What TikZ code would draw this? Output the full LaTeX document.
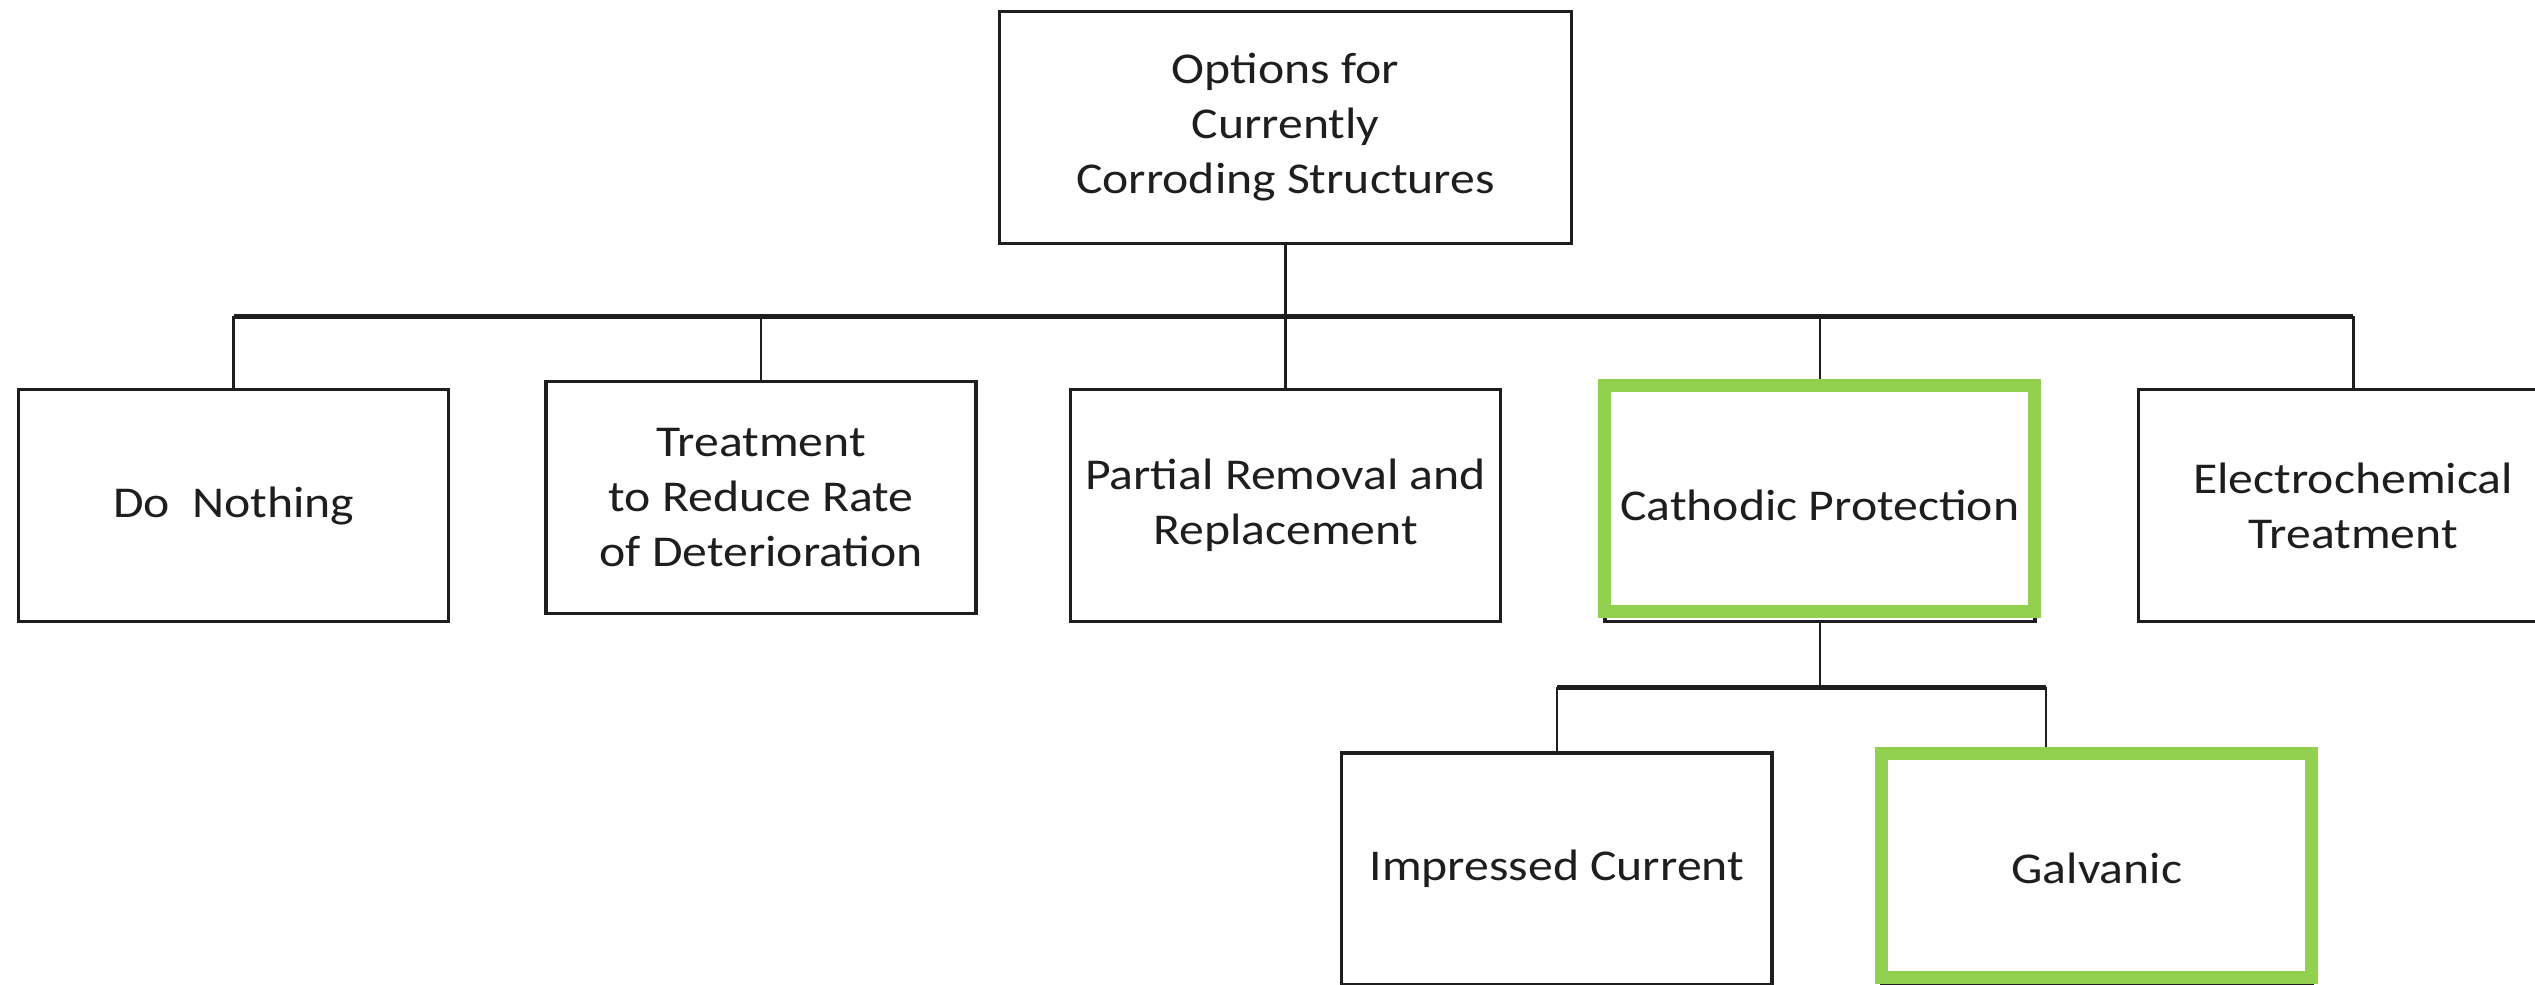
\documentclass[tikz,border=0pt]{standalone}
\usepackage{fontspec}
\setmainfont{Carlito}[FakeStretch=1.13]
\usetikzlibrary{positioning, fit, calc}
\definecolor{hlgreen}{RGB}{146, 208, 80}
\definecolor{ink}{RGB}{30, 30, 30}

\begin{document}
\begin{tikzpicture}[
    node distance=30pt,
    font=\fontsize{13.2}{16.5}\selectfont,
    % Styles
    box/.style={rectangle, minimum width=129pt, minimum height=69.6pt, align=center, draw=ink, line width=1pt, text=ink, inner sep=2pt},
    topbox/.style={box, minimum width=171.6pt},
    highlight/.style={draw=hlgreen, line width=3.9pt, inner xsep=-0.5pt, inner ysep=-1.4pt},
    bus/.style={draw=ink, line width=1.5pt},
    drop/.style={draw=ink, line width=0.8pt}
]
    \useasboundingbox (-385.65pt,-143.55pt) rectangle (374.85pt,151.65pt);

    % --- FIRST LEVEL: OPTIONS ---
    \node [box] (partial) {Partial Removal and\\Replacement};
    \node [box, left=27.3pt of partial, yshift=2.4pt] (treat) {Treatment\\to Reduce Rate\\of Deterioration};
    \node [box, left=28.2pt of treat, yshift=-2.4pt] (do) {Do\ \ Nothing};
    \node [box, right=30.3pt of partial] (cp) {Cathodic Protection};
    \node [box, right=30pt of cp] (elec) {Electrochemical\\Treatment};

    % --- ROOT ---
    \node [topbox, above=42.9pt of partial] (top) {Options for\\Currently\\Corroding Structures};

    % --- SECOND LEVEL: CATHODIC PROTECTION TYPES ---
    \node [box, below=38.4pt of cp, xshift=-78.9pt] (imp) {Impressed Current};
    \node [box, right=32pt of imp] (galv) {Galvanic};

    % --- CONNECTIONS ---
    \coordinate (bus) at ($(top.south)!0.5!(partial.north)$);
    \coordinate (sub) at ($(cp.south)!0.5!(imp.north)$);
    \coordinate (gdrop) at ([xshift=-15.3pt]galv.north);

    \draw [drop, line width=1pt] (top.south) -- (partial.north);
    \draw [bus] (do.north |- bus) -- (elec.north |- bus);
    \foreach \n in {do, treat, cp, elec}
        \draw [drop] (\n.north |- bus) -- (\n.north);

    \draw [drop] (cp.south) -- (cp.south |- sub);
    \draw [bus] (imp.north |- sub) -- (gdrop |- sub);
    \draw [drop] (imp.north |- sub) -- (imp.north);
    \draw [drop] (gdrop |- sub) -- (gdrop);

    % --- GREEN HIGHLIGHTS ---
    \node [highlight, fit=(cp), yshift=2.1pt] (cp_hl) {};
    \node [highlight, fit=(galv), inner ysep=-1.65pt, yshift=1pt] (galv_hl) {};

\end{tikzpicture}
\end{document}
